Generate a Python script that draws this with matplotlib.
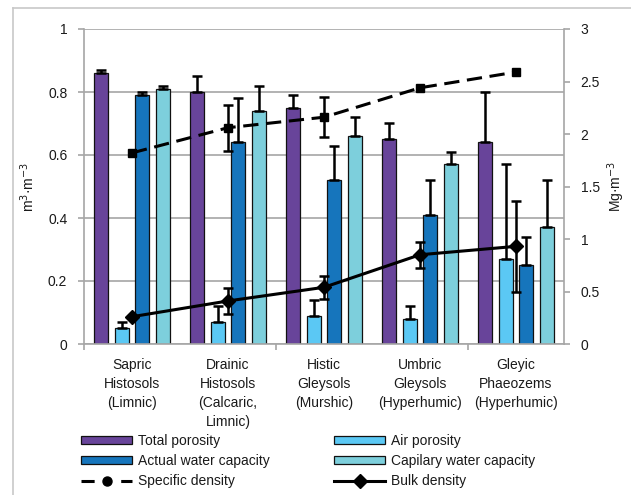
import numpy as np
import matplotlib
matplotlib.use("Agg")
import matplotlib.pyplot as plt
from matplotlib.lines import Line2D
from matplotlib.patches import Patch

plt.rcParams['font.family'] = ['Liberation Sans', 'DejaVu Sans']
plt.rcParams['font.size'] = 10

# Soil units
categories = [
    "Sapric\nHistosols\n(Limnic)",
    "Drainic\nHistosols\n(Calcaric,\nLimnic)",
    "Histic\nGleysols\n(Murshic)",
    "Umbric\nGleysols\n(Hyperhumic)",
    "Gleyic\nPhaeozems\n(Hyperhumic)",
]

# Porosity and water capacity, m3·m-3 (mean and upper error)
total_porosity = [0.86, 0.80, 0.75, 0.65, 0.64]
total_porosity_err = [0.01, 0.05, 0.04, 0.05, 0.16]
air_porosity = [0.05, 0.07, 0.09, 0.08, 0.27]
air_porosity_err = [0.02, 0.05, 0.05, 0.04, 0.30]
actual_water = [0.79, 0.64, 0.52, 0.41, 0.25]
actual_water_err = [0.01, 0.14, 0.11, 0.11, 0.09]
capillary_water = [0.81, 0.74, 0.66, 0.57, 0.37]
capillary_water_err = [0.01, 0.08, 0.06, 0.04, 0.15]

# Densities, Mg·m-3
specific_density = [1.82, 2.06, 2.16, 2.44, 2.59]
specific_density_err = [0.0, 0.22, 0.19, 0.0, 0.0]
bulk_density = [0.26, 0.41, 0.54, 0.85, 0.93]
bulk_density_err = [0.0, 0.12, 0.11, 0.125, 0.43]

left_ticks = [0, 0.2, 0.4, 0.6, 0.8, 1]
left_tick_labels = ["0", "0.2", "0.4", "0.6", "0.8", "1"]
right_ticks = [0, 0.5, 1, 1.5, 2, 2.5, 3]
right_tick_labels = ["0", "0.5", "1", "1.5", "2", "2.5", "3"]

c_total = "#68449a"
c_air = "#5bc8f4"
c_actual = "#1675bc"
c_cap = "#7dcfdc"
grid_c = "#a6a6a6"
text_c = "#1a1a1a"

W, H = 631, 495
fig = plt.figure(figsize=(W / 100, H / 100), dpi=100)
ax = fig.add_axes([84 / W, 1 - 344 / H, (564 - 84) / W, (344 - 29) / H])

x = np.arange(len(categories))
step = 0.215
width = 0.146
series = [
    (total_porosity, total_porosity_err, c_total, "Total porosity"),
    (air_porosity, air_porosity_err, c_air, "Air porosity"),
    (actual_water, actual_water_err, c_actual, "Actual water capacity"),
    (capillary_water, capillary_water_err, c_cap, "Capilary water capacity"),
]
for i, (vals, errs, col, lab) in enumerate(series):
    xi = x + (i - 1.5) * step
    ax.bar(xi, vals, width=width, color=col, edgecolor="#111111",
           linewidth=0.9, zorder=2)
    ax.errorbar(xi, vals, yerr=[np.zeros(len(vals)), errs], fmt="none",
                ecolor="black", elinewidth=1.8, capsize=3.5, capthick=1.8,
                zorder=3)

ax.set_xlim(-0.5, 4.5)
ax.set_ylim(0, 1)
ax.set_yticks(left_ticks)
ax.set_yticklabels(left_tick_labels, color=text_c)
ax.yaxis.grid(True, color=grid_c, linewidth=1.2)
ax.set_axisbelow(True)
ax.set_xticks([-0.5, 1.5, 3.5])
ax.set_xticklabels([])
ax.set_xticks(x, minor=True)
ax.set_xticklabels(categories, minor=True, color=text_c, linespacing=1.45,
                   va="top")
ax.tick_params(axis="x", which="major", length=4, color=grid_c, width=1.2)
ax.tick_params(axis="x", which="minor", length=0, pad=10)
ax.tick_params(axis="y", length=4, color=grid_c, width=1.2, pad=8)
for s in ["left", "bottom", "right"]:
    ax.spines[s].set_color(grid_c)
    ax.spines[s].set_linewidth(1.2)
ax.spines["top"].set_visible(False)
ax.set_ylabel("m$^{3}$·m$^{-3}$", color=text_c, va="center")
ax.yaxis.set_label_coords((28 - 84) / 480, 0.5)

ax2 = ax.twinx()
ax2.set_ylim(0, 3)
ax2.set_yticks(right_ticks)
ax2.set_yticklabels(right_tick_labels, color=text_c)
ax2.tick_params(axis="y", length=4, color=grid_c, width=1.2, pad=8)
for s in ["left", "bottom", "right", "top"]:
    ax2.spines[s].set_visible(False)
ax2.set_ylabel("Mg·m$^{-3}$", color=text_c, va="center")
ax2.yaxis.set_label_coords((616 - 84) / 480, 0.5)

ax2.plot(x, specific_density, color="black", linewidth=2.2,
         linestyle=(0, (5, 2.5)), marker="s", markersize=6, zorder=4)
ax2.plot(x, bulk_density, color="black", linewidth=2.2, marker="D",
         markersize=7, zorder=4)
for vals, errs in [(specific_density, specific_density_err),
                   (bulk_density, bulk_density_err)]:
    v = np.array(vals)
    e = np.array(errs)
    m = e > 0
    ax2.errorbar(x[m], v[m], yerr=e[m], fmt="none", ecolor="black",
                 elinewidth=1.8, capsize=3.5, capthick=1.8, zorder=4)

# Chart frame (left and top edges)
fig.add_artist(Line2D([13 / W, 13 / W], [0, 1 - 8 / H], color="#c8c8c8",
                      linewidth=1.2, transform=fig.transFigure))
fig.add_artist(Line2D([13 / W, 1], [1 - 8 / H, 1 - 8 / H], color="#c8c8c8",
                      linewidth=1.2, transform=fig.transFigure))

leg_kw = dict(loc="upper left", frameon=False, borderpad=0, borderaxespad=0,
              handlelength=3.7, handleheight=0.5, handletextpad=0.4,
              labelspacing=0.45, fontsize=10, labelcolor=text_c)
h_total = Patch(facecolor=c_total, edgecolor="#111111", linewidth=0.9)
h_actual = Patch(facecolor=c_actual, edgecolor="#111111", linewidth=0.9)
h_air = Patch(facecolor=c_air, edgecolor="#111111", linewidth=0.9)
h_cap = Patch(facecolor=c_cap, edgecolor="#111111", linewidth=0.9)
h_spec = Line2D([], [], color="black", linewidth=2.2,
                linestyle=(0, (4.3, 8.7)), marker="o", markersize=6.5)
h_bulk = Line2D([], [], color="black", linewidth=2.2, marker="D",
                markersize=7)
fig.legend([h_total, h_actual, h_spec],
           ["Total porosity", "Actual water capacity", "Specific density"],
           bbox_to_anchor=(81 / W, 1 - 434 / H), **leg_kw)
fig.legend([h_air, h_cap, h_bulk],
           ["Air porosity", "Capilary water capacity", "Bulk density"],
           bbox_to_anchor=(334 / W, 1 - 434 / H), **leg_kw)

fig.savefig("out.png", dpi=100)
